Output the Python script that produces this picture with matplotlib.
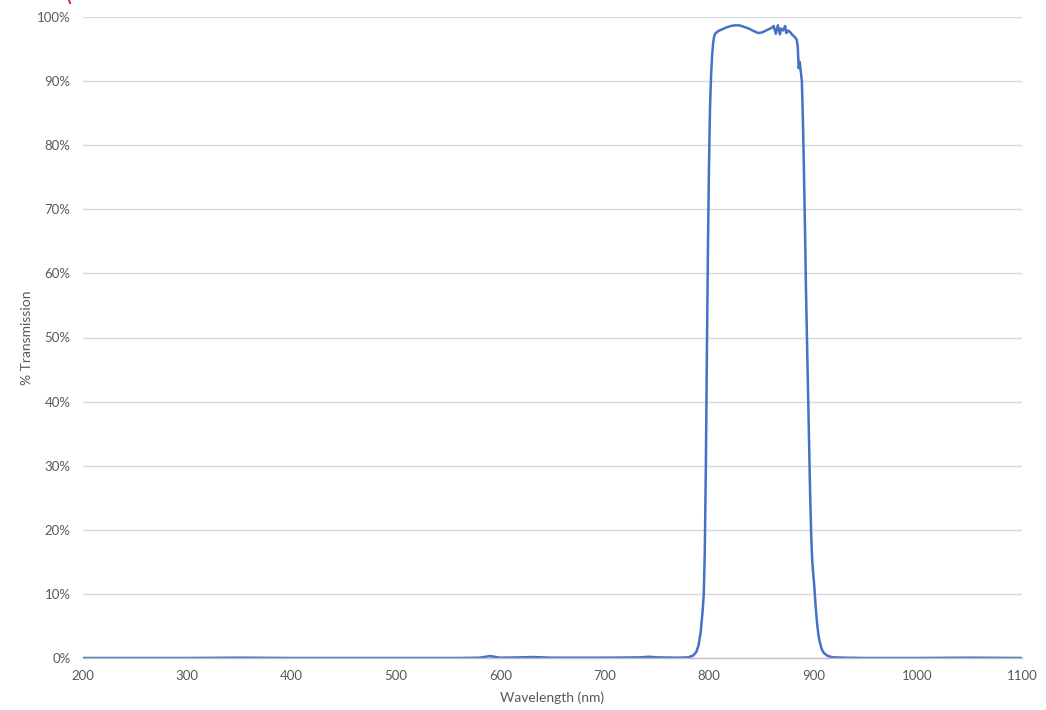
import matplotlib
matplotlib.use("Agg")
import matplotlib.pyplot as plt
from matplotlib.ticker import FuncFormatter, MultipleLocator
from matplotlib.lines import Line2D

wavelength = [200, 300, 350, 400, 500, 560, 580, 586, 590, 594, 600, 620, 630, 640, 650, 700, 735, 742, 750, 770,
              780, 785, 788, 790, 792, 794, 795, 796, 797, 798, 799, 800, 801, 802, 803, 804, 805, 806, 808, 810,
              813, 817, 821, 825, 829, 833, 838, 843, 847, 851, 856, 860, 862, 864, 866, 868, 869, 871, 873, 874,
              876, 878, 880, 882, 884, 885, 886, 887, 888, 889, 890, 891, 892, 893, 894, 895, 896, 897, 898, 899,
              900, 901, 902, 903, 904, 905, 906, 908, 910, 913, 916, 920, 930, 950, 1000, 1050, 1100]
transmission = [0.0, 0.0, 0.05, 0.0, 0.0, 0.0, 0.05, 0.2, 0.3, 0.2, 0.05, 0.1, 0.15, 0.1, 0.05, 0.05, 0.1, 0.2, 0.1, 0.05,
                0.1, 0.4, 1.0, 2.0, 4.0, 7.5, 10.0, 17.0, 30.0, 48.0, 64.0, 77.0, 86.0, 91.0, 94.0, 96.0, 97.0, 97.4, 97.7, 97.9,
                98.1, 98.4, 98.6, 98.7, 98.7, 98.5, 98.2, 97.8, 97.5, 97.6, 98.0, 98.3, 98.6, 97.4, 98.7, 97.3, 98.2, 97.9, 98.6, 97.5,
                97.9, 97.6, 97.2, 96.9, 96.5, 95.5, 92.0, 93.0, 91.5, 90.0, 84.0, 76.0, 67.0, 57.0, 49.0, 41.0, 33.0, 25.0, 19.0, 15.0,
                13.0, 11.0, 8.5, 6.5, 4.8, 3.5, 2.6, 1.4, 0.8, 0.4, 0.2, 0.1, 0.05, 0.0, 0.0, 0.05, 0.0]

x_ticks = [200, 300, 400, 500, 600, 700, 800, 900, 1000, 1100]

plt.rcParams['font.family'] = ['Lato', 'DejaVu Sans']

fig = plt.figure(figsize=(10.46, 7.10), dpi=100)
ax = fig.add_axes([83/1046, 1-658/710, (1022-83)/1046, (658-17)/710])

ax.plot(wavelength, transmission, color='#4472C4', linewidth=1.8, solid_joinstyle='round')

ax.set_xlim(200, 1100)
ax.set_ylim(0, 100)
ax.set_xticks(x_ticks)
ax.yaxis.set_major_locator(MultipleLocator(10))
ax.yaxis.set_major_formatter(FuncFormatter(lambda v, p: f"{int(round(v))}%"))

ax.grid(axis='y', color='#d9d9d9', linewidth=1.0)
ax.set_axisbelow(True)
for s in ['top', 'right', 'left']:
    ax.spines[s].set_visible(False)
ax.spines['bottom'].set_color('#bfbfbf')
ax.spines['bottom'].set_linewidth(1.0)
ax.tick_params(axis='both', length=0, labelsize=9.5, labelcolor='#595959')
ax.tick_params(axis='x', pad=9)
ax.tick_params(axis='y', pad=9)

ax.set_xlabel('Wavelength (nm)', fontsize=10, color='#595959')
ax.set_ylabel('% Transmission', fontsize=10, color='#595959')
ax.yaxis.set_label_coords((27-83)/939, 0.5)
ax.xaxis.set_label_coords(0.5, (658-698)/641)
ax.xaxis.label.set_va('center')
ax.yaxis.label.set_va('center')

fig.add_artist(Line2D([69/1046, 70/1046], [1-0/710, 1-3/710], color='#e03030', linewidth=1.5))

fig.savefig('out.png', dpi=100, facecolor='white')
